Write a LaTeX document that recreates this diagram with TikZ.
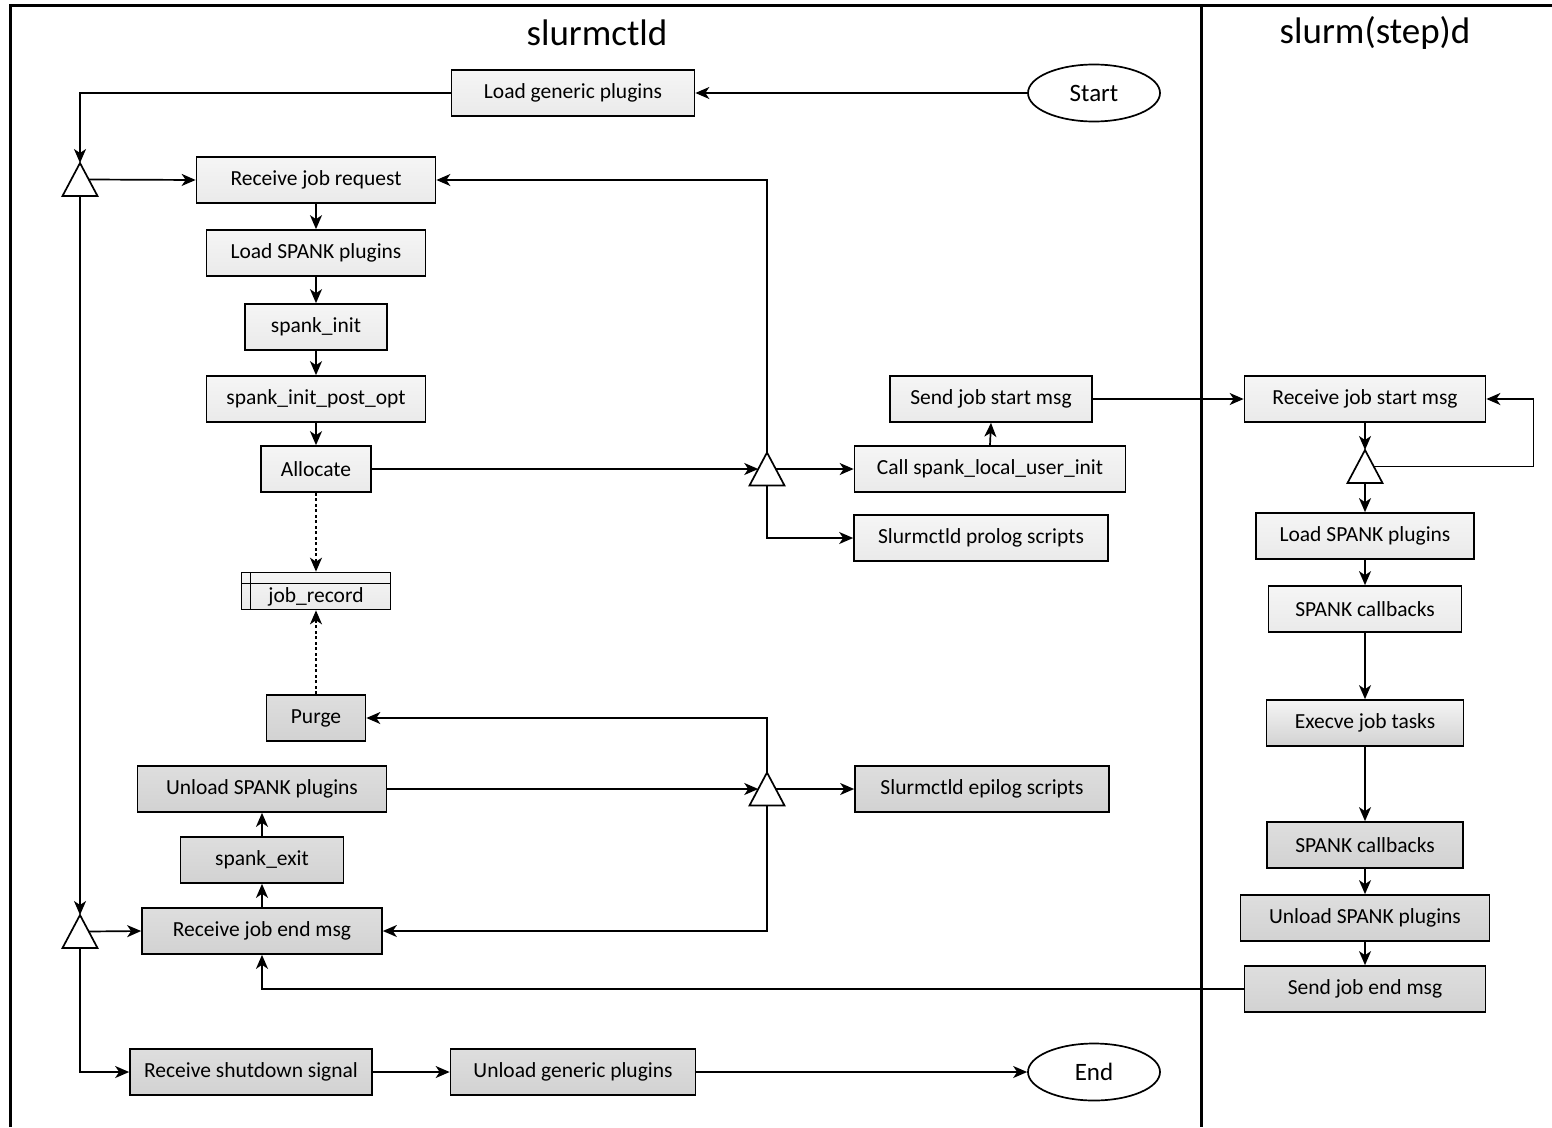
\documentclass[tikz,border=0pt]{standalone}
\usepackage{fontspec}
\setmainfont{Carlito}
\usetikzlibrary{arrows.meta,shapes.geometric,calc}

\definecolor{lighttop}{HTML}{F5F5F5}
\definecolor{lightbot}{HTML}{EAEAEA}
\definecolor{darktop}{HTML}{DEDEDE}
\definecolor{darkbot}{HTML}{D2D2D2}

% merge triangle: centre #2,#3; defines #1-t (apex), #1-b (base), #1-l, #1-r (sides at centre height)
\newcommand\mergetri[3]{%
  \coordinate (#1) at (#2,#3);
  \coordinate (#1-t) at (#2,#3-16.5);
  \coordinate (#1-b) at (#2,#3+16.5);
  \coordinate (#1-l) at (#2-8.75,#3);
  \coordinate (#1-r) at (#2+8.75,#3);
  \draw[fill=white, line width=1.7pt, line join=miter]
    (#1-t) -- (#2+17.5,#3+16.5) -- (#2-17.5,#3+16.5) -- cycle;
}

\begin{document}
\begin{tikzpicture}[x=1pt, y=-1pt,
  every node/.style={font=\fontsize{21.5}{25}\selectfont},
  box/.style={draw, line width=1.7pt, minimum height=46pt, inner sep=0pt},
  lightbox/.style={box, top color=lighttop, bottom color=lightbot},
  darkbox/.style={box, top color=darktop, bottom color=darkbot},
  fadebox/.style={box, top color=lighttop, bottom color=darkbot},
  term/.style={draw, ellipse, line width=1.7pt, fill=white, minimum width=132pt, minimum height=57pt, inner sep=0pt, font=\fontsize{25}{30}\selectfont},
  title/.style={font=\fontsize{37}{44}\selectfont},
  arr/.style={line width=1.7pt, -{Stealth[length=14pt, width=12pt, inset=4pt]}},
  darr/.style={arr, dashed, dash pattern=on 3pt off 2.5pt}
]
\useasboundingbox (0,0) rectangle (1552,1127);

% swimlane frame
\draw[line width=3pt] (10,1127) -- (10,5) -- (1552,5);
\draw[line width=3pt] (1201,5) -- (1201,1127);
\node[title] (lane1) at (597,33) {slurmctld};
\node[title] (lane2) at (1375,33) {slurm(step)d};

% slurmctld lane
\node[lightbox, minimum width=243pt] (lgp) at (573,93) {Load generic plugins};
\node[term] (start) at (1094,93) {Start};
\node[lightbox, minimum width=239pt] (rjr) at (316,180) {Receive job request};
\node[lightbox, minimum width=219pt] (lsp) at (316,253) {Load SPANK plugins};
\node[lightbox, minimum width=142pt] (si) at (316,327) {spank\_init};
\node[lightbox, minimum width=219pt] (sipo) at (316,399) {spank\_init\_post\_opt};
\node[lightbox, minimum width=110pt] (alloc) at (316,469) {Allocate};
\node[lightbox, minimum width=149pt, minimum height=37pt,
  path picture={
    \draw[line width=1.4pt] ([yshift=-11pt]path picture bounding box.north west) -- ([yshift=-11pt]path picture bounding box.north east);
    \draw[line width=1.4pt] ([xshift=9pt]path picture bounding box.north west) -- ([xshift=9pt]path picture bounding box.south west);
  }] (jr) at (316,591) {\raisebox{-6pt}[\height][\depth]{job\_record}};
\node[darkbox, minimum width=99pt] (purge) at (316,718) {Purge};
\node[darkbox, minimum width=249pt] (usp1) at (262,789) {Unload SPANK plugins};
\node[darkbox, minimum width=163pt] (sex) at (262,860) {spank\_exit};
\node[darkbox, minimum width=240pt] (rjem) at (262,931) {Receive job end msg};
\node[darkbox, minimum width=242pt] (rss) at (251,1072) {Receive shutdown signal};
\node[darkbox, minimum width=245pt] (ugp) at (573,1072) {Unload generic plugins};
\node[term] (end) at (1094,1072) {End};

\node[lightbox, minimum width=202pt] (sjs) at (991,399) {Send job start msg};
\node[lightbox, minimum width=271pt] (csl) at (990,469) {Call spank\_local\_user\_init};
\node[lightbox, minimum width=254pt] (prolog) at (981,538) {Slurmctld prolog scripts};
\node[darkbox, minimum width=254pt] (epilog) at (982,789) {Slurmctld epilog scripts};

% slurm(step)d lane
\node[lightbox, minimum width=241pt] (rjsm) at (1365,399) {Receive job start msg};
\node[lightbox, minimum width=218pt] (lsp2) at (1365,536) {Load SPANK plugins};
\node[lightbox, minimum width=193pt] (cb1) at (1365,609) {SPANK callbacks};
\node[fadebox, minimum width=197pt] (exe) at (1365,723) {Execve job tasks};
\node[darkbox, minimum width=196pt] (cb2) at (1365,845) {SPANK callbacks};
\node[darkbox, minimum width=249pt] (usp2) at (1365,918) {Unload SPANK plugins};
\node[darkbox, minimum width=241pt] (sjem) at (1365,989) {Send job end msg};

% merge points
\mergetri{t1}{80}{179.5}
\mergetri{t2}{80}{931.5}
\mergetri{t3}{767}{469}
\mergetri{t4}{1365}{466.5}
\mergetri{t5}{767}{789}

% startup and request loop
\draw[arr] (start.west) -- (lgp.east);
\draw[arr] (lgp.west) -| (t1-t);
\draw[arr] (t1-r) -- (rjr.west);
\draw[arr] (t1-b) -- (t2-t);
\draw[arr] (rjr.south) -- (lsp.north);
\draw[arr] (lsp.south) -- (si.north);
\draw[arr] (si.south) -- (sipo.north);
\draw[arr] (sipo.south) -- (alloc.north);
\draw[darr] (alloc.south) -- (jr.north);
\draw[darr] (purge.north) -- (jr.south);

% job start
\draw[arr] (alloc.east) -- (t3-l);
\draw[arr] (t3-r) -- (csl.west);
\draw[arr] (t3-t) |- (rjr.east);
\draw[arr] (t3-b) |- (prolog.west);
\draw[arr] (csl.north) -- (sjs.south);
\draw[arr] (sjs.east) -- (rjsm.west);

% step daemon
\draw[arr] (rjsm.south) -- (t4-t);
\draw[arr] (t4-r) -| ($(rjsm.east)+(47,0)$) -- (rjsm.east);
\draw[arr] (t4-b) -- (lsp2.north);
\draw[arr] (lsp2.south) -- (cb1.north);
\draw[arr] (cb1.south) -- (exe.north);
\draw[arr] (exe.south) -- (cb2.north);
\draw[arr] (cb2.south) -- (usp2.north);
\draw[arr] (usp2.south) -- (sjem.north);
\draw[arr] (sjem.west) -| (rjem.south);

% job end
\draw[arr] (rjem.north) -- (sex.south);
\draw[arr] (sex.north) -- (usp1.south);
\draw[arr] (usp1.east) -- (t5-l);
\draw[arr] (t5-r) -- (epilog.west);
\draw[arr] (t5-t) |- (purge.east);
\draw[arr] (t5-b) |- (rjem.east);

% shutdown
\draw[arr] (t2-r) -- (rjem.west);
\draw[arr] (t2-b) |- (rss.west);
\draw[arr] (rss.east) -- (ugp.west);
\draw[arr] (ugp.east) -- (end.west);
\end{tikzpicture}
\end{document}
